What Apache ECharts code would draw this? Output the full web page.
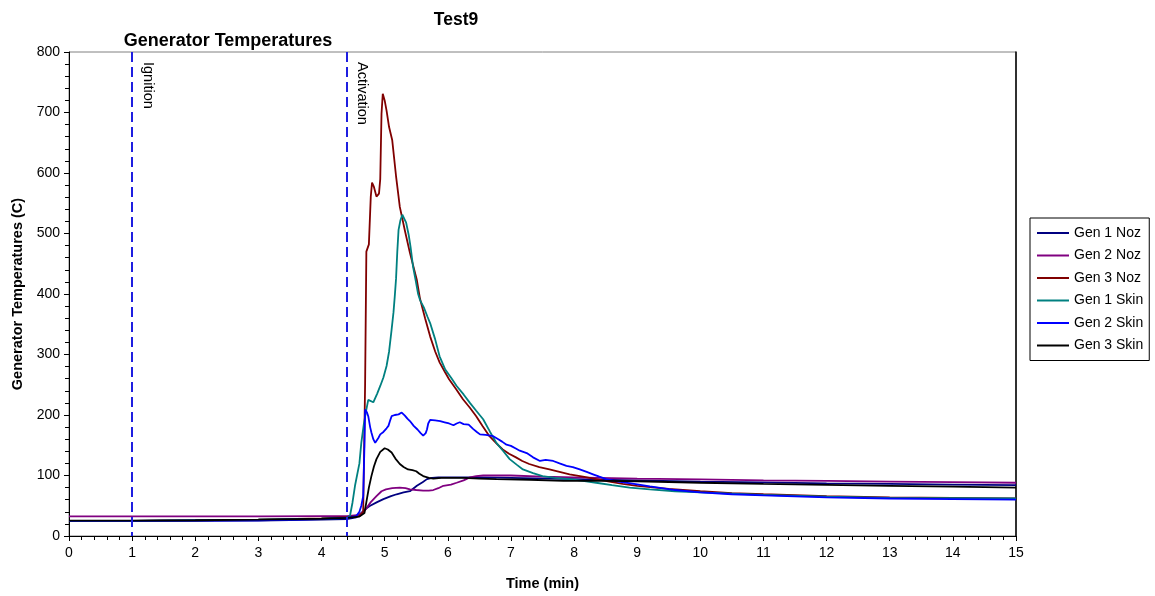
<!DOCTYPE html>
<html style="height: 100%">
<head>
    <meta charset="UTF-8" />
    <title>Test9</title>
    <script src="https://cdn.jsdelivr.net/npm/echarts@6/dist/echarts.min.js"></script>
</head>
<body style="height: 100%; margin: 0; background: #fff">
    <div id="main" style="width: 1155px; height: 596px"></div>
    <script type="text/javascript">
        // data: [time (min), temperature (C)]
        var seriesNames = ['Gen 1 Noz', 'Gen 2 Noz', 'Gen 3 Noz', 'Gen 1 Skin', 'Gen 2 Skin', 'Gen 3 Skin'];
        var seriesColors = ['#000080', '#800080', '#800000', '#008080', '#0000ff', '#000000'];

        var gen1Noz = [[0, 24.5], [1, 24.5], [2, 25], [3, 25.5], [4, 27], [4.4, 28], [4.55, 31], [4.63, 38], [4.7, 45],
            [4.77, 50], [4.88, 56], [4.98, 61], [5.1, 66], [5.19, 69], [5.3, 72], [5.4, 74], [5.51, 83], [5.6, 89],
            [5.67, 94], [5.75, 96], [5.85, 97], [6, 97], [6.5, 97], [7, 96], [8, 94], [9, 92], [10, 90], [11, 88.5],
            [12, 87], [13, 86], [14, 85], [15, 84]];

        var gen2Noz = [[0, 32.5], [1, 32.5], [2, 32.5], [3, 32.5], [4, 33], [4.4, 33], [4.6, 35], [4.7, 44], [4.78, 56],
            [4.87, 66], [4.95, 74], [5.02, 77], [5.12, 79], [5.24, 80], [5.33, 79], [5.4, 77], [5.5, 76], [5.61, 75],
            [5.7, 75], [5.77, 76], [5.85, 79], [5.93, 83], [6.05, 85], [6.14, 88], [6.25, 92], [6.35, 97], [6.45, 99],
            [6.56, 100], [6.8, 100], [7, 100], [7.5, 98], [8, 97], [9, 95], [10, 93.5], [11, 92], [12, 91], [13, 90],
            [14, 89], [15, 88]];

        var gen3Noz = [[0, 25], [1, 25], [2, 26], [3, 27], [4, 29], [4.4, 31], [4.6, 33], [4.66, 40], [4.69, 250],
            [4.71, 470], [4.75, 482], [4.78, 561], [4.8, 584], [4.83, 577], [4.87, 561], [4.91, 566], [4.93, 590],
            [4.95, 698], [4.97, 731], [5.0, 720], [5.03, 703], [5.07, 676], [5.12, 654], [5.18, 595], [5.24, 544],
            [5.32, 505], [5.4, 468], [5.51, 423], [5.56, 392], [5.64, 360], [5.72, 330], [5.8, 305], [5.87, 287],
            [5.95, 272], [6.02, 259], [6.13, 243], [6.24, 226], [6.35, 212], [6.45, 198], [6.55, 182], [6.66, 165],
            [6.77, 153], [6.87, 143], [6.97, 136], [7.08, 130], [7.18, 124], [7.29, 119], [7.45, 114], [7.61, 110],
            [7.77, 106], [7.93, 102], [8.14, 98], [8.35, 94], [8.56, 90], [8.77, 86], [9, 83], [9.5, 78], [10, 74],
            [10.5, 71], [11, 69], [12, 66], [13, 64], [14, 63], [15, 62]];

        var gen1Skin = [[0, 25], [1, 25], [2, 26], [3, 27], [4, 28.5], [4.4, 30], [4.45, 33], [4.49, 55], [4.53, 83],
            [4.56, 80], [4.6, 120], [4.63, 154], [4.67, 185], [4.71, 209], [4.74, 225], [4.77, 223], [4.82, 221],
            [4.88, 235], [4.93, 248], [4.98, 262], [5.03, 281], [5.07, 305], [5.11, 341], [5.14, 370], [5.16, 396],
            [5.18, 425], [5.2, 470], [5.22, 506], [5.25, 522], [5.28, 531], [5.31, 528], [5.34, 518], [5.38, 498],
            [5.41, 478], [5.45, 445], [5.49, 423], [5.53, 400], [5.56, 390], [5.62, 378], [5.68, 362], [5.72, 352],
            [5.8, 325], [5.87, 297], [5.96, 275], [6.05, 262], [6.14, 248], [6.25, 234], [6.35, 220], [6.45, 207],
            [6.56, 193], [6.67, 172], [6.77, 154], [6.88, 140], [6.98, 127], [7.09, 118], [7.19, 110], [7.35, 104],
            [7.5, 99], [7.7, 96], [7.93, 94], [8.14, 91], [8.35, 88], [8.6, 84], [8.88, 80], [9.2, 77], [9.6, 74],
            [10, 72], [10.5, 70], [11, 68], [12, 65], [13, 63], [14, 62.5], [15, 62]];

        var gen2Skin = [[0, 25], [1, 25], [2, 25.5], [3, 26], [4, 28], [4.4, 30], [4.55, 33], [4.6, 40], [4.63, 50],
            [4.66, 66], [4.68, 150], [4.69, 209], [4.72, 204], [4.74, 198], [4.77, 180], [4.79, 171], [4.82, 160],
            [4.85, 154], [4.9, 162], [4.93, 168], [4.98, 172], [5.03, 178], [5.06, 182], [5.09, 192], [5.11, 198],
            [5.16, 200], [5.22, 201], [5.27, 204], [5.32, 199], [5.36, 194], [5.4, 190], [5.46, 182], [5.52, 176],
            [5.57, 170], [5.61, 166], [5.65, 170], [5.67, 176], [5.69, 186], [5.72, 192], [5.75, 195], [5.8, 191],
            [5.88, 190], [5.95, 188], [6.02, 186], [6.09, 183], [6.14, 186], [6.19, 188], [6.25, 185], [6.33, 184],
            [6.4, 177], [6.46, 172], [6.51, 168], [6.6, 167], [6.72, 165], [6.8, 160], [6.86, 156], [6.93, 151],
            [7.0, 149], [7.07, 145], [7.14, 141], [7.25, 137], [7.35, 130], [7.46, 124], [7.55, 126], [7.67, 124],
            [7.77, 120], [7.88, 116], [7.98, 114], [8.09, 110], [8.2, 106], [8.3, 102], [8.4, 98], [8.51, 94],
            [8.7, 90], [8.9, 87], [9.2, 82], [9.6, 76], [10, 72], [10.5, 69], [11, 67], [12, 64], [13, 62],
            [14, 61], [15, 60]];

        var gen3Skin = [[0, 25.5], [1, 25.5], [2, 26], [3, 27], [4, 28.5], [4.4, 30], [4.6, 32], [4.68, 38], [4.71, 56],
            [4.75, 80], [4.79, 99], [4.83, 115], [4.87, 127], [4.93, 139], [5.0, 145], [5.05, 143], [5.11, 138],
            [5.17, 128], [5.24, 119], [5.3, 114], [5.37, 110], [5.44, 109], [5.5, 107], [5.55, 103], [5.61, 99],
            [5.7, 96], [5.77, 95], [5.9, 96], [6.0, 96], [6.24, 96], [6.5, 95], [6.77, 94], [7.3, 93], [7.83, 91],
            [8.5, 91], [9, 90.5], [10, 88], [11, 86], [12, 84.5], [13, 83], [14, 81.5], [15, 80]];

        // event markers (min)
        var events = [{ name: 'Ignition', t: 1 }, { name: 'Activation', t: 4.4 }];

        var allData = [gen1Noz, gen2Noz, gen3Noz, gen1Skin, gen2Skin, gen3Skin];
        var font = 'Liberation Sans, Arial, sans-serif';

        var chart = echarts.init(document.getElementById('main'));

        var series = allData.map(function (d, i) {
            return {
                name: seriesNames[i],
                type: 'line',
                data: d,
                symbol: 'none',
                animation: false,
                lineStyle: { color: seriesColors[i], width: 1.8 },
                itemStyle: { color: seriesColors[i] }
            };
        });

        // dashed vertical event lines, drawn top -> bottom so the labels read downward
        series[0].markLine = {
            silent: true,
            symbol: 'none',
            animation: false,
            lineStyle: { color: '#1f1fe0', type: [10, 5], width: 2 },
            label: {
                show: true,
                position: 'insideStartTop',
                distance: [10, 8],
                color: '#000',
                fontFamily: font,
                fontSize: 14.5,
                formatter: '{b}'
            },
            data: events.map(function (e) {
                return [{ name: e.name, coord: [e.t, 800] }, { coord: [e.t, 0] }];
            })
        };

        var option = {
            backgroundColor: '#fff',
            animation: false,
            title: [
                {
                    text: 'Test9', left: 451, top: 6, textAlign: 'center',
                    textStyle: { fontFamily: font, fontSize: 17.5, fontWeight: 'bold', color: '#000' }
                },
                {
                    text: 'Generator Temperatures', left: 223, top: 27, textAlign: 'center',
                    textStyle: { fontFamily: font, fontSize: 18, fontWeight: 'bold', color: '#000' }
                }
            ],
            legend: {
                data: seriesNames,
                orient: 'vertical',
                left: 1030,
                top: 218,
                itemWidth: 32,
                itemHeight: 14,
                itemGap: 8.5,
                padding: [8, 6, 8, 6],
                borderColor: '#000',
                borderWidth: 1,
                itemStyle: { opacity: 0 },
                textStyle: { fontFamily: font, fontSize: 14, color: '#000' }
            },
            grid: {
                left: 69, right: 139, top: 52, bottom: 59,
                show: true, borderColor: '#808080', borderWidth: 1
            },
            xAxis: {
                type: 'value',
                min: 0, max: 15, interval: 1,
                name: 'Time (min)',
                nameLocation: 'middle',
                nameGap: 40,
                nameTextStyle: { fontFamily: font, fontSize: 14.5, fontWeight: 'bold', color: '#000' },
                axisLine: { lineStyle: { color: '#000' } },
                axisTick: { length: 5, lineStyle: { color: '#000' } },
                minorTick: { show: true, splitNumber: 5, length: 4, lineStyle: { color: '#000' } },
                splitLine: { show: false },
                axisLabel: { fontFamily: font, fontSize: 14, color: '#000', margin: 10 }
            },
            yAxis: [{
                type: 'value',
                min: 0, max: 800, interval: 100,
                name: 'Generator Temperatures (C)',
                nameLocation: 'middle',
                nameGap: 43,
                nameTextStyle: { fontFamily: font, fontSize: 14.5, fontWeight: 'bold', color: '#000' },
                axisLine: { show: true, lineStyle: { color: '#000' } },
                axisTick: { show: true, length: 5, lineStyle: { color: '#000' } },
                minorTick: { show: true, splitNumber: 5, length: 4, lineStyle: { color: '#000' } },
                splitLine: { show: false },
                axisLabel: { fontFamily: font, fontSize: 14, color: '#000', margin: 9 }
            }, {
                type: 'value',
                position: 'right',
                min: 0, max: 800,
                axisLine: { show: true, lineStyle: { color: '#000', width: 1.5 } },
                axisTick: { show: false },
                axisLabel: { show: false },
                splitLine: { show: false }
            }],
            series: series
        };

        chart.setOption(option);
    </script>
</body>
</html>
